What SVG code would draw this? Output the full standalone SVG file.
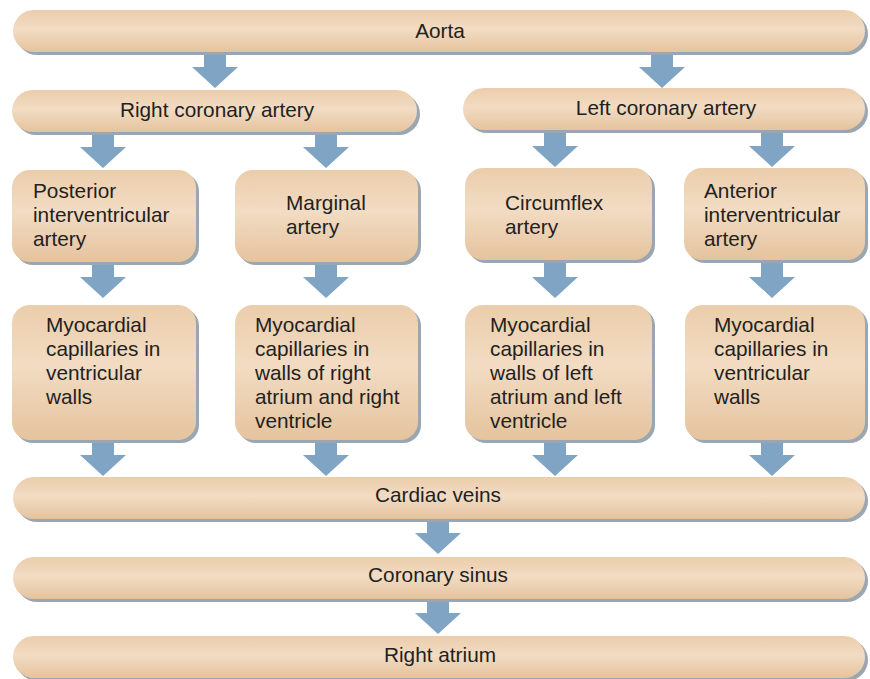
<svg xmlns="http://www.w3.org/2000/svg" width="870" height="679" viewBox="0 0 870 679">
<defs>
<linearGradient id="tan" x1="0" y1="0" x2="0" y2="1">
<stop offset="0" stop-color="#ebcdab"/>
<stop offset="0.45" stop-color="#f2dcc3"/>
<stop offset="1" stop-color="#e5c39e"/>
</linearGradient>
<style>
.sh{fill:#9aa6b0}
.nd{fill:url(#tan)}
.t{font-family:"Liberation Sans",Arial,sans-serif;font-size:20.8px;fill:#231f20}
.c{text-anchor:middle}
.ar{fill:#7fa4c4}
</style>
</defs>
<rect width="870" height="679" fill="#ffffff"/>
<g id="connectors">
<polygon class="ar" points="204,53 226,53 226,67 238,67 215,88 192,67 204,67"/>
<polygon class="ar" points="651,53 673,53 673,67 685,67 662,88 639,67 651,67"/>
<polygon class="ar" points="92,133 114,133 114,147 126,147 103,168 80,147 92,147"/>
<polygon class="ar" points="315,133 337,133 337,147 349,147 326,168 303,147 315,147"/>
<polygon class="ar" points="544,131 566,131 566,146 578,146 555,167 532,146 544,146"/>
<polygon class="ar" points="761,131 783,131 783,146 795,146 772,167 749,146 761,146"/>
<polygon class="ar" points="92,263 114,263 114,277 126,277 103,298 80,277 92,277"/>
<polygon class="ar" points="315,263 337,263 337,277 349,277 326,298 303,277 315,277"/>
<polygon class="ar" points="544,263 566,263 566,277 578,277 555,298 532,277 544,277"/>
<polygon class="ar" points="761,263 783,263 783,277 795,277 772,298 749,277 761,277"/>
<polygon class="ar" points="92,442 114,442 114,455 126,455 103,476 80,455 92,455"/>
<polygon class="ar" points="315,442 337,442 337,455 349,455 326,476 303,455 315,455"/>
<polygon class="ar" points="544,442 566,442 566,455 578,455 555,476 532,455 544,455"/>
<polygon class="ar" points="761,442 783,442 783,455 795,455 772,476 749,455 761,455"/>
<polygon class="ar" points="427,521 449,521 449,533 461,533 438,554 415,533 427,533"/>
<polygon class="ar" points="427,601 449,601 449,613 461,613 438,634 415,613 427,613"/>
</g>
<g id="aorta">
<rect class="sh" x="16" y="13" width="852" height="42" rx="21"/>
<rect class="nd" x="13" y="10" width="852" height="42" rx="21"/>
<text class="t c" x="440" y="38">Aorta</text>
</g>
<g id="right-coronary">
<rect class="sh" x="15" y="93" width="405" height="42" rx="21"/>
<rect class="nd" x="12" y="90" width="405" height="42" rx="21"/>
<text class="t c" x="217" y="117">Right coronary artery</text>
</g>
<g id="left-coronary">
<rect class="sh" x="466" y="91" width="402" height="42" rx="21"/>
<rect class="nd" x="463" y="88" width="402" height="42" rx="21"/>
<text class="t c" x="666" y="115">Left coronary artery</text>
</g>
<g id="posterior">
<rect class="sh" x="15" y="173" width="184" height="92" rx="18"/>
<rect class="nd" x="12" y="170" width="184" height="92" rx="18"/>
<text class="t" x="33" y="198">Posterior</text>
<text class="t" x="33" y="222">interventricular</text>
<text class="t" x="33" y="246">artery</text>
</g>
<g id="marginal">
<rect class="sh" x="238" y="173" width="183" height="92" rx="18"/>
<rect class="nd" x="235" y="170" width="183" height="92" rx="18"/>
<text class="t" x="286" y="210">Marginal</text>
<text class="t" x="286" y="234">artery</text>
</g>
<g id="circumflex">
<rect class="sh" x="468" y="171" width="187" height="92" rx="18"/>
<rect class="nd" x="465" y="168" width="187" height="92" rx="18"/>
<text class="t" x="505" y="210">Circumflex</text>
<text class="t" x="505" y="234">artery</text>
</g>
<g id="anterior">
<rect class="sh" x="687" y="171" width="181" height="92" rx="18"/>
<rect class="nd" x="684" y="168" width="181" height="92" rx="18"/>
<text class="t" x="704" y="198">Anterior</text>
<text class="t" x="704" y="222">interventricular</text>
<text class="t" x="704" y="246">artery</text>
</g>
<g id="myo-posterior">
<rect class="sh" x="15" y="308" width="184" height="135" rx="18"/>
<rect class="nd" x="12" y="305" width="184" height="135" rx="18"/>
<text class="t" x="46" y="332">Myocardial</text>
<text class="t" x="46" y="356">capillaries in</text>
<text class="t" x="46" y="380">ventricular</text>
<text class="t" x="46" y="404">walls</text>
</g>
<g id="myo-marginal">
<rect class="sh" x="238" y="308" width="183" height="135" rx="18"/>
<rect class="nd" x="235" y="305" width="183" height="135" rx="18"/>
<text class="t" x="255" y="332">Myocardial</text>
<text class="t" x="255" y="356">capillaries in</text>
<text class="t" x="255" y="380">walls of right</text>
<text class="t" x="255" y="404">atrium and right</text>
<text class="t" x="255" y="428">ventricle</text>
</g>
<g id="myo-circumflex">
<rect class="sh" x="468" y="308" width="187" height="135" rx="18"/>
<rect class="nd" x="465" y="305" width="187" height="135" rx="18"/>
<text class="t" x="490" y="332">Myocardial</text>
<text class="t" x="490" y="356">capillaries in</text>
<text class="t" x="490" y="380">walls of left</text>
<text class="t" x="490" y="404">atrium and left</text>
<text class="t" x="490" y="428">ventricle</text>
</g>
<g id="myo-anterior">
<rect class="sh" x="688" y="308" width="180" height="135" rx="18"/>
<rect class="nd" x="685" y="305" width="180" height="135" rx="18"/>
<text class="t" x="714" y="332">Myocardial</text>
<text class="t" x="714" y="356">capillaries in</text>
<text class="t" x="714" y="380">ventricular</text>
<text class="t" x="714" y="404">walls</text>
</g>
<g id="cardiac-veins">
<rect class="sh" x="16" y="480" width="852" height="42" rx="21"/>
<rect class="nd" x="13" y="477" width="852" height="42" rx="21"/>
<text class="t c" x="438" y="502">Cardiac veins</text>
</g>
<g id="coronary-sinus">
<rect class="sh" x="16" y="560" width="852" height="42" rx="21"/>
<rect class="nd" x="13" y="557" width="852" height="42" rx="21"/>
<text class="t c" x="438" y="582">Coronary sinus</text>
</g>
<g id="right-atrium">
<rect class="sh" x="16" y="639" width="852" height="42" rx="21"/>
<rect class="nd" x="13" y="636" width="852" height="42" rx="21"/>
<text class="t c" x="440" y="662">Right atrium</text>
</g>
</svg>
